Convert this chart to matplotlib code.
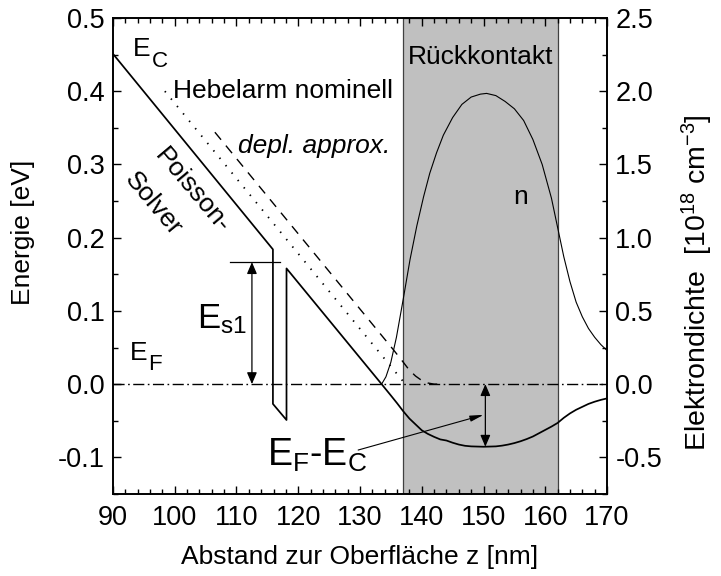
import matplotlib
matplotlib.use('Agg')
import matplotlib.pyplot as plt
from matplotlib.ticker import MultipleLocator, FormatStrFormatter

plt.rcParams['font.family'] = ['Liberation Sans', 'DejaVu Sans']
plt.rcParams['mathtext.default'] = 'regular'

# conduction band from the Poisson solver (with the tunnel barrier at ~117 nm)
z_poisson = [90, 115.9, 115.9, 118.1, 118.1, 133.5, 135, 136, 137, 138, 139, 140, 141, 142,
             143, 144, 145, 146, 147, 148, 150, 152, 153, 154, 155, 156, 157, 158, 159,
             160, 161, 162, 163, 164, 165, 166, 167, 168, 169, 170]
E_poisson = [0.451, 0.184, -0.027, -0.049, 0.158, 0.0, -0.0155, -0.026, -0.037, -0.047,
             -0.055, -0.063, -0.068, -0.072, -0.0755, -0.077, -0.080, -0.0825, -0.0842,
             -0.085, -0.0855, -0.085, -0.084, -0.0825, -0.0805, -0.078, -0.075, -0.0715,
             -0.067, -0.0625, -0.058, -0.053, -0.046, -0.040, -0.035, -0.031, -0.027,
             -0.024, -0.0215, -0.0195]

# nominal lever arm (dotted)
z_nominal = [98.4, 137.35]
E_nominal = [0.400, 0.0]

# depletion approximation (dashed)
z_depl = [106.5, 135.5, 137, 138, 139, 140, 141, 142, 143.5]
E_depl = [0.344, 0.046, 0.030, 0.019, 0.011, 0.005, 0.0015, 0.0, 0.0]

# electron density in the back contact, right axis [1e18 cm^-3]
z_n = [133.5, 134.2, 135.0, 135.9, 137.0, 138.1, 139.2, 140.3, 141.3, 142.4, 143.5, 145.0,
       146.5, 148.0, 149.5, 150.5, 152.0, 153.5, 155.0, 156.5, 158.0, 159.5, 161.0, 162.0,
       163.0, 164.0, 165.0, 166.0, 167.0, 168.0, 169.0, 170.0]
n_vals = [0.0, 0.05, 0.15, 0.32, 0.58, 0.85, 1.08, 1.28, 1.44, 1.58, 1.70, 1.82, 1.91, 1.96,
          1.98, 1.985, 1.97, 1.93, 1.88, 1.80, 1.67, 1.50, 1.27, 1.07, 0.87, 0.70, 0.56,
          0.46, 0.38, 0.32, 0.27, 0.23]

contact = (137, 162)
E_s1 = 0.1666
z_s1 = 112.5
E_min = -0.0855
z_min = 150.3

fs = 19
fs_tick = 19.5

fig = plt.figure(figsize=(7.21, 5.76), dpi=100)
ax = fig.add_axes([0.1567, 0.1424, 0.6852, 0.8264])
ax2 = ax.twinx()


def sub_label(x, y, main, sub, drop):
    # subscript drawn nearly full size, hung off the right edge of the main letter
    t = ax.text(x, y, main, fontsize=fs, va='baseline')
    ax.annotate(sub, xy=(1.0, 0.0), xycoords=t, xytext=(0.5, -drop),
                textcoords='offset points', fontsize=fs * 0.85, va='baseline')


ax.axvspan(*contact, facecolor='#c0c0c0', edgecolor='#404040', lw=0.9, zorder=0)
ax.axhline(0, color='black', lw=1.0, dashes=(8, 2.5, 1.2, 2.5), zorder=2)

ax.plot(z_poisson, E_poisson, color='black', lw=1.25, zorder=3)
ax.plot(z_nominal, E_nominal, color='black', lw=1.3, dashes=(0.8, 4.5), zorder=3)
ax.plot(z_depl, E_depl, color='black', lw=1.0, dashes=(7, 5.5), zorder=3)
ax2.plot(z_n, n_vals, color='black', lw=0.8)

# E_s1 marker
ax.plot([109.0, 117.1], [E_s1, E_s1], color='black', lw=0.9)
ax.annotate('', xy=(z_s1, E_s1), xytext=(z_s1, 0.0),
            arrowprops=dict(arrowstyle='<|-|>,head_length=0.7,head_width=0.3',
                            color='black', lw=0.9, shrinkA=0, shrinkB=0))
# E_F - E_C marker
ax.annotate('', xy=(z_min, 0.0), xytext=(z_min, E_min),
            arrowprops=dict(arrowstyle='<|-|>,head_length=0.7,head_width=0.3',
                            color='black', lw=0.9, shrinkA=0, shrinkB=0))
ax.annotate('', xy=(150.0, -0.042), xytext=(129.7, -0.090),
            arrowprops=dict(arrowstyle='-|>,head_length=0.8,head_width=0.18',
                            color='black', lw=0.8, shrinkA=0, shrinkB=0))

sub_label(93.3, 0.448, 'E', 'C', 4.5)
sub_label(92.75, 0.0327, 'E', 'F', 3.5)
ax.text(99.7, 0.391, 'Hebelarm nominell', fontsize=fs, va='baseline')
ax.text(110.2, 0.316, 'depl. approx.', fontsize=fs, style='italic', va='baseline')
ax.text(137.8, 0.437, 'Rückkontakt', fontsize=fs, va='baseline')
ax.text(154.8, 0.2466, 'n', fontsize=fs, va='baseline')
ax.text(102.85, 0.264, 'Poisson-', fontsize=fs, rotation=-50, rotation_mode='anchor',
        ha='center', va='center')
ax.text(96.5, 0.246, 'Solver', fontsize=fs, rotation=-50, rotation_mode='anchor',
        ha='center', va='center')
ax.text(103.55, 0.0763, 'E$_{s1}$', fontsize=25, va='baseline')
ax.text(114.9, -0.1117, 'E$_F$-E$_C$', fontsize=27, va='baseline')

ax.set_xlim(90, 170)
ax.set_ylim(-0.15, 0.5)
ax2.set_ylim(-0.75, 2.5)

ax.xaxis.set_major_locator(MultipleLocator(10))
ax.xaxis.set_minor_locator(MultipleLocator(2))
ax.yaxis.set_major_locator(MultipleLocator(0.1))
ax.yaxis.set_minor_locator(MultipleLocator(0.05))
ax.yaxis.set_major_formatter(FormatStrFormatter('%.1f'))
ax2.yaxis.set_major_locator(MultipleLocator(0.5))
ax2.yaxis.set_minor_locator(MultipleLocator(0.25))
ax2.yaxis.set_major_formatter(FormatStrFormatter('%.1f'))

ax.tick_params(which='both', direction='in', top=True, right=False, labelsize=fs_tick,
               width=1.0)
ax.tick_params(which='major', length=6)
ax.tick_params(which='minor', length=3.5)
ax.tick_params(axis='x', pad=8)
ax.tick_params(axis='y', pad=6)
ax2.tick_params(which='both', direction='in', labelsize=fs_tick, width=1.0, pad=6)
ax2.tick_params(which='major', length=6)
ax2.tick_params(which='minor', length=3.5)

for a in (ax, ax2):
    for sp in a.spines.values():
        sp.set_linewidth(1.2)

ax.set_xlabel('Abstand zur Oberfläche z [nm]', fontsize=fs, va='center')
ax.set_ylabel('Energie [eV]', fontsize=fs, va='center')
ax2.set_ylabel('Elektrondichte  [10$^{18}$ cm$^{-3}$]', fontsize=20.5, rotation=90,
               va='center')
ax.xaxis.set_label_coords(0.5, -0.132)
ax.yaxis.set_label_coords(-0.182, 0.55)
ax2.yaxis.set_label_coords(1.183, 0.445)

fig.savefig('out.png', dpi=100)
